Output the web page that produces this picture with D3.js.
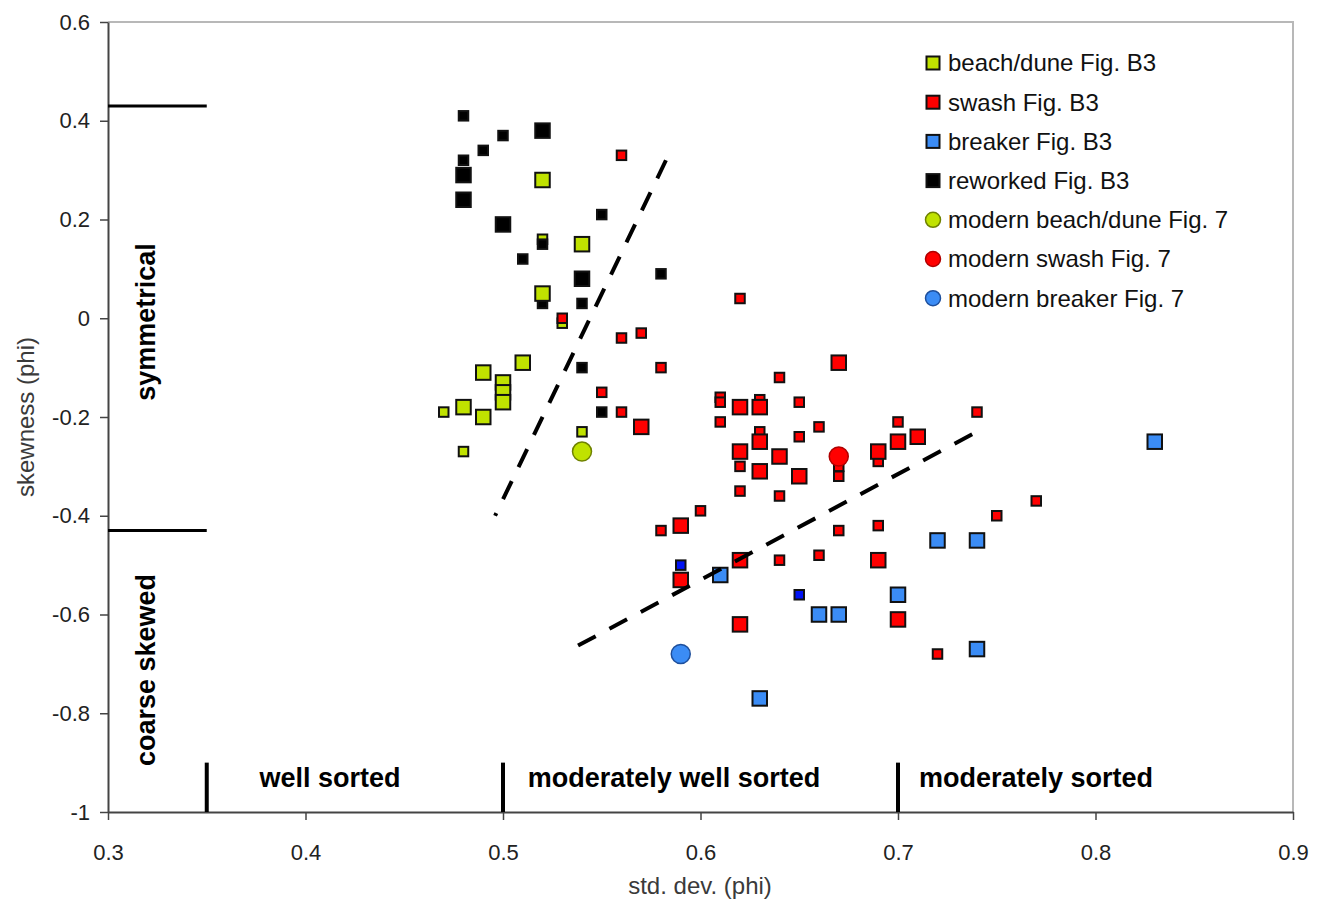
<!DOCTYPE html>
<html>
<head>
<meta charset="utf-8">
<script src="https://cdn.jsdelivr.net/npm/d3@7"></script>
<style>
  html, body { margin: 0; padding: 0; background: #fff; }
  svg { display: block; font-family: Arial, "Liberation Sans", sans-serif; }
</style>
</head>
<body>
<svg id="chart" width="1323" height="905"></svg>
<script>
// ---- data: [std. dev. (phi), skewness (phi)] ----
const beachDuneLarge = [[0.52,0.28],[0.54,0.15],[0.52,0.05],[0.51,-0.09],[0.49,-0.11],[0.50,-0.13],[0.50,-0.15],[0.50,-0.17],[0.48,-0.18],[0.49,-0.20]];
const beachDuneSmall = [[0.52,0.16],[0.53,-0.01],[0.47,-0.19],[0.48,-0.27],[0.54,-0.23]];

const swashLarge = [[0.67,-0.09],[0.62,-0.18],[0.63,-0.18],[0.63,-0.25],[0.62,-0.27],[0.64,-0.28],[0.63,-0.31],[0.65,-0.32],[0.57,-0.22],[0.59,-0.42],[0.62,-0.49],[0.59,-0.53],[0.62,-0.62],[0.71,-0.24],[0.70,-0.25],[0.69,-0.27],[0.69,-0.49],[0.70,-0.61]];
const swashSmall = [[0.56,0.33],[0.53,0.00],[0.56,-0.04],[0.57,-0.03],[0.58,-0.10],[0.55,-0.15],[0.56,-0.19],[0.62,0.04],[0.64,-0.12],[0.61,-0.16],[0.61,-0.17],[0.61,-0.21],[0.63,-0.165],[0.65,-0.17],[0.66,-0.22],[0.65,-0.24],[0.63,-0.23],[0.62,-0.30],[0.67,-0.30],[0.67,-0.32],[0.62,-0.35],[0.64,-0.36],[0.60,-0.39],[0.58,-0.43],[0.67,-0.43],[0.64,-0.49],[0.66,-0.48],[0.74,-0.19],[0.70,-0.21],[0.69,-0.29],[0.77,-0.37],[0.75,-0.40],[0.69,-0.42],[0.72,-0.68]];

const breakerLarge = [[0.61,-0.52],[0.66,-0.60],[0.67,-0.60],[0.63,-0.77],[0.72,-0.45],[0.74,-0.45],[0.70,-0.56],[0.74,-0.67],[0.83,-0.25]];
const breakerSmall = [[0.59,-0.50],[0.65,-0.56]];

const reworkedLarge = [[0.52,0.38],[0.48,0.29],[0.48,0.24],[0.50,0.19],[0.54,0.08]];
const reworkedSmall = [[0.48,0.41],[0.50,0.37],[0.49,0.34],[0.48,0.32],[0.55,0.21],[0.52,0.15],[0.51,0.12],[0.58,0.09],[0.52,0.03],[0.54,0.03],[0.54,-0.10],[0.55,-0.19]];

const modernBeachDune = [[0.54,-0.27]];
const modernSwash = [[0.67,-0.28]];
const modernBreaker = [[0.59,-0.68]];

// dashed boundary lines
const boundaryA = [[0.5825,0.32],[0.496,-0.40]];
const boundaryB = [[0.538,-0.663],[0.738,-0.234]];

// class limits
const skewLimits = [0.43,-0.43];
const sortLimits = [0.35,0.5,0.7];

const xTicks = [0.3,0.4,0.5,0.6,0.7,0.8,0.9];
const xTickLabels = ["0.3","0.4","0.5","0.6","0.7","0.8","0.9"];
const yTicks = [-1,-0.8,-0.6,-0.4,-0.2,0,0.2,0.4,0.6];
const yTickLabels = ["-1","-0.8","-0.6","-0.4","-0.2","0","0.2","0.4","0.6"];

const legendLabels = ["beach/dune Fig. B3","swash Fig. B3","breaker Fig. B3","reworked Fig. B3","modern beach/dune Fig. 7","modern swash Fig. 7","modern breaker Fig. 7"];

// ---- drawing ----
const LIME = "#c0e200", RED = "#ff0000", LBLUE = "#3b8cf5", DBLUE = "#0012f5", BLACK = "#000000";

const svg = d3.select("#chart");
svg.append("rect").attr("width",1323).attr("height",905).attr("fill","#fff");

const x = d3.scaleLinear().domain([0.3,0.9]).range([108,1293]);
const y = d3.scaleLinear().domain([-1,0.6]).range([812,22]);

// plot frame (top/right)
svg.append("path")
  .attr("d", `M${x(0.3)},${y(0.6)}H${x(0.9)}V${y(-1)}`)
  .attr("fill","none").attr("stroke","#b8b8b8").attr("stroke-width",2);

// axes
const yAxis = d3.axisLeft(y).tickValues(yTicks)
  .tickFormat((d,i) => yTickLabels[i]).tickSize(8).tickPadding(10).tickSizeOuter(0);
const xAxis = d3.axisBottom(x).tickValues(xTicks)
  .tickFormat((d,i) => xTickLabels[i]).tickSize(8).tickPadding(24).tickSizeOuter(0);

const gy = svg.append("g").attr("transform",`translate(${x(0.3)},0)`).call(yAxis);
const gx = svg.append("g").attr("transform",`translate(0,${y(-1)})`).call(xAxis);
[gx, gy].forEach(g => {
  g.select(".domain").attr("stroke","#444").attr("stroke-width",2);
  g.selectAll(".tick line").attr("stroke","#444").attr("stroke-width",1.5);
  g.selectAll(".tick text").attr("fill","#222").style("font-size","22px").style("font-family","Arial, 'Liberation Sans', sans-serif");
});

// axis titles
svg.append("text")
  .attr("transform",`translate(26,417) rotate(-90)`)
  .attr("text-anchor","middle").attr("dy","0.35em")
  .attr("fill","#3a3a3a").style("font-size","24px")
  .text("skewness (phi)");
svg.append("text")
  .attr("x",700).attr("y",894)
  .attr("text-anchor","middle").attr("fill","#3a3a3a").style("font-size","24px")
  .text("std. dev. (phi)");

// skewness class limits
svg.append("g").selectAll("line").data(skewLimits).join("line")
  .attr("x1",x(0.3)).attr("x2",x(0.35))
  .attr("y1",d=>y(d)).attr("y2",d=>y(d))
  .attr("stroke","#000").attr("stroke-width",3);

// sorting class limits
svg.append("g").selectAll("line").data(sortLimits).join("line")
  .attr("x1",d=>x(d)).attr("x2",d=>x(d))
  .attr("y1",y(-0.9)).attr("y2",y(-1))
  .attr("stroke","#000").attr("stroke-width",4);

// class names
const classStyle = s => s.attr("fill","#000").style("font-size","27px").style("font-weight","bold");
classStyle(svg.append("text").attr("x",330).attr("y",787).attr("text-anchor","middle").text("well sorted"));
classStyle(svg.append("text").attr("x",674).attr("y",787).attr("text-anchor","middle").text("moderately well sorted"));
classStyle(svg.append("text").attr("x",1036).attr("y",787).attr("text-anchor","middle").text("moderately sorted"));
classStyle(svg.append("text").attr("transform","translate(146,322) rotate(-90)").attr("text-anchor","middle").attr("dy","0.35em").text("symmetrical"));
classStyle(svg.append("text").attr("transform","translate(146,670) rotate(-90)").attr("text-anchor","middle").attr("dy","0.35em").text("coarse skewed"));

// markers
const markers = svg.append("g");
function squares(data, fill, side) {
  markers.append("g").selectAll("rect").data(data).join("rect")
    .attr("x", d => x(d[0]) - side/2).attr("y", d => y(d[1]) - side/2)
    .attr("width", side).attr("height", side)
    .attr("fill", fill).attr("stroke", "#111").attr("stroke-width", 2);
}
function circles(data, fill, edge) {
  markers.append("g").selectAll("circle").data(data).join("circle")
    .attr("cx", d => x(d[0])).attr("cy", d => y(d[1])).attr("r", 9.5)
    .attr("fill", fill).attr("stroke", edge).attr("stroke-width", 1.5);
}
const SMALL = 9.5, LARGE = 14.5;
squares(beachDuneSmall, LIME, SMALL);
squares(breakerSmall, DBLUE, SMALL);
squares(reworkedSmall, BLACK, SMALL);
squares(swashSmall, RED, SMALL);
squares(beachDuneLarge, LIME, LARGE);
squares(swashLarge, RED, LARGE);
squares(breakerLarge, LBLUE, LARGE);
squares(reworkedLarge, BLACK, LARGE);
circles(modernBeachDune, LIME, "#6f8200");
circles(modernSwash, RED, "#b00000");
circles(modernBreaker, LBLUE, "#1e4f9c");

// dashed boundaries
const line = d3.line().x(d => x(d[0])).y(d => y(d[1]));
[boundaryA, boundaryB].forEach(b => {
  svg.append("path").attr("d", line(b))
    .attr("fill","none").attr("stroke","#000").attr("stroke-width",4)
    .attr("stroke-dasharray","20,15.6");
});

// legend
const legendStyles = [
  {shape:"square", fill:LIME, edge:"#111"},
  {shape:"square", fill:RED, edge:"#111"},
  {shape:"square", fill:LBLUE, edge:"#111"},
  {shape:"square", fill:BLACK, edge:"#111"},
  {shape:"circle", fill:LIME, edge:"#6f8200"},
  {shape:"circle", fill:RED, edge:"#b00000"},
  {shape:"circle", fill:LBLUE, edge:"#1e4f9c"}
];
const legend = svg.append("g");
const rows = legend.selectAll("g").data(legendLabels).join("g")
  .attr("transform", (d,i) => `translate(933,${63 + i*39.2})`);
rows.each(function(d,i) {
  const g = d3.select(this), st = legendStyles[i];
  if (st.shape === "square") {
    g.append("rect").attr("x",-6.5).attr("y",-6.5).attr("width",13).attr("height",13)
      .attr("fill",st.fill).attr("stroke",st.edge).attr("stroke-width",2);
  } else {
    g.append("circle").attr("r",7.5).attr("fill",st.fill).attr("stroke",st.edge).attr("stroke-width",1.5);
  }
  g.append("text").attr("x",15).attr("dy","0.35em")
    .attr("fill","#111").style("font-size","24px").text(d);
});
</script>
</body>
</html>
